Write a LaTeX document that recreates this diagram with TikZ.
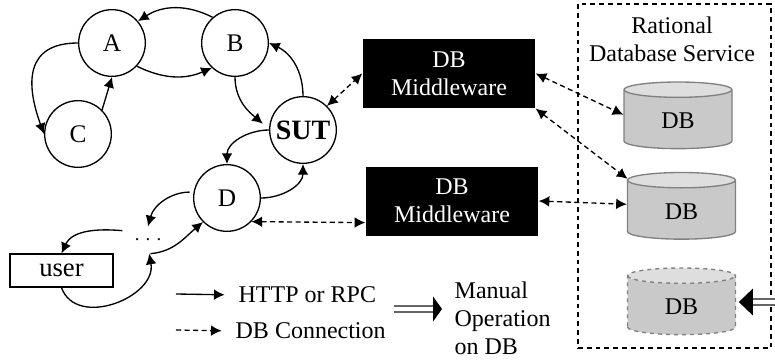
\documentclass[tikz,border=0pt]{standalone}
\usepackage{fontspec}
\setmainfont{Liberation Serif}
\usetikzlibrary{arrows.meta,shapes.geometric}

\begin{document}
\begin{tikzpicture}[x=0.75pt,y=-0.75pt,>={Latex[length=8pt,width=8pt]},line width=1pt,
    font=\fontsize{18}{21}\selectfont,
    state node/.style={circle,draw,inner sep=0pt,minimum size=50pt,font=\fontsize{19}{21}\selectfont},
    black box/.style={rectangle,fill=black,text=white,align=center,inner sep=0pt,minimum width=129pt,minimum height=51.75pt},
    db node/.style={cylinder,shape border rotate=90,shape aspect=0.46,draw=black!50,line width=1pt,cylinder uses custom fill,cylinder body fill=black!21,cylinder end fill=black!13,inner sep=0pt,text height=14pt,minimum width=81pt,minimum height=50pt},
    dash line/.style={dash pattern=on 3.8pt off 2.6pt},
    manual line/.style={double=white,draw=black!60,line width=0.9pt,double distance=3.6pt}]
    \useasboundingbox (0,0) rectangle (775,364);

    \node[draw,dash pattern=on 3.6pt off 3pt,inner sep=0pt,minimum width=144.75pt,minimum height=258pt] (service) at (674.5,176){};
    \node[align=center,inner sep=0pt] (servicename) at (672,39.5){Rational\\Database Service};

    \node[state node] (A) at (112,43){A};
    \node[state node] (B)[right of = A,node distance=92.25pt]{B};
    \node[state node] (C) at (78,134){C};
    \node[state node,font=\fontsize{21}{21}\selectfont\bfseries] (SUT) at (303,130){SUT};
    \node[state node] (D) at (227,198){D};
    \node[inner sep=0pt,minimum width=37.5pt,minimum height=19.5pt,font=\fontsize{14}{14}\selectfont] (dots) at (148,240){. . .};
    \node[draw,inner sep=0pt,minimum width=77.25pt,minimum height=24.75pt,font=\fontsize{20}{21}\selectfont] (user) at (61.5,270.5){user};

    \node[black box] (middle1) at (449,73.5){DB\\Middleware};
    \node[black box] (middle2) at (452,201){DB\\Middleware};

    \node[db node] (db1) at (678,119.5){DB};
    \node[db node] (db2) at (681.5,210){DB};
    \node[db node,dashed] (db3) at (681.5,305.5){DB};

    \coordinate (http) at (176,294);
    \coordinate (conn) at (176,330);
    \coordinate (manualin) at (394,309);
    \coordinate (dbin) at (775,302);
    \node[anchor=west,inner sep=0pt] (httpname) at (238,295){HTTP or RPC};
    \node[anchor=west,inner sep=0pt] (connname) at (235,331){DB Connection};
    \node[anchor=west,align=left,inner sep=0pt] (manual) at (454,318){Manual\\Operation\\on DB};

    \path[->]
        (B.131) edge[bend right=30] (A.40)
        (A.-43) edge[bend right=25] (B.227)
        (A.180) edge[out=180,in=110,looseness=1.4] (C.180)
        (C.45) edge (A.-90)
        (B.270) edge[out=-90,in=140,shorten >=6pt] (SUT.178)
        (SUT.90) edge[out=90,in=-25] (B.0)
        (SUT.180) edge[out=180,in=90] (D.90)
        (D.0) edge[out=0,in=-90] (SUT.270)
        (D.170) edge[out=180,in=75,shorten <=3pt] (dots.north)
        (dots.-80) edge[out=5,in=220] (D.225)
        (dots.160) edge[out=175,in=65] (user.north)
        (user.south) edge[out=-70,in=-80,looseness=1.2] (dots.-85)
        (http) edge[shorten >=10pt] (httpname.west)
        ;
    \path[->,dash line]
        (conn) edge[shorten >=10pt] (connname.west)
        ;
    \path[<->,dash line]
        (SUT.45) edge (middle1.west)
        (D.-44) edge (middle2.194)
        (middle1.east) edge (db1.175)
        (middle1.south east) edge (db2.150)
        (middle2.east) edge (db2.174)
        ;
    \draw[manual line,shorten >=9pt,-{Triangle[length=6.75pt,width=18.75pt,color=black]}] (manualin) -- (manualin -| manual.west);
    \draw[manual line,shorten >=2pt,-{Triangle[length=10.5pt,width=20pt,color=black]}] (dbin) -- (dbin -| db3.east);
\end{tikzpicture}
\end{document}
